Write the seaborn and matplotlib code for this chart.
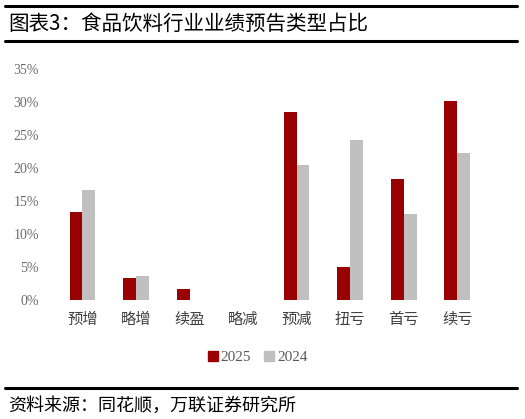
import matplotlib
matplotlib.use("Agg")
import matplotlib.pyplot as plt
import seaborn as sns
import pandas as pd
from matplotlib.lines import Line2D
from matplotlib.ticker import FuncFormatter

categories = ["预增", "略增", "续盈", "略减", "预减", "扭亏", "首亏", "续亏"]
values_2025 = [13.4, 3.3, 1.7, 0.0, 28.5, 5.0, 18.4, 30.2]
values_2024 = [16.7, 3.7, 0.0, 0.0, 20.4, 24.2, 13.0, 22.3]
series_names = ["2025", "2024"]
colors = ["#990000", "#C0C0C0"]

df = pd.DataFrame({
    "类型": categories * 2,
    "年份": [series_names[0]] * len(categories) + [series_names[1]] * len(categories),
    "占比": [v / 100 for v in values_2025] + [v / 100 for v in values_2024],
})

sns.set_theme(style="white")
plt.rcParams['font.family'] = ['Noto Sans CJK SC', 'DejaVu Sans']

fig = plt.figure(figsize=(5.25, 4.19), dpi=100)
ax = fig.add_axes([0.106, 0.284, 0.816, 0.551])

sns.barplot(data=df, x="类型", y="占比", hue="年份", hue_order=series_names,
            palette=colors, width=0.48, ax=ax, legend=False, saturation=1,
            linewidth=0)

ax.set_ylim(0, 0.35)
ax.set_yticks([i * 0.05 for i in range(8)])
ax.yaxis.set_major_formatter(FuncFormatter(lambda v, p: f"{round(v*100):d}%"))
for s in ax.spines.values():
    s.set_visible(False)
ax.set_xlabel("")
ax.set_ylabel("")
ax.tick_params(axis="y", length=0, pad=12, labelsize=10, labelcolor="#6b6b6b")
ax.tick_params(axis="x", length=0, pad=8, labelsize=11, labelcolor="#404040")
for lbl in ax.get_yticklabels():
    lbl.set_family(["Liberation Serif", "DejaVu Serif"])

# legend
handles = [Line2D([0], [0], marker="s", linestyle="", markersize=7,
                  markerfacecolor=c, markeredgecolor=c) for c in colors]
leg = fig.legend(handles, series_names, loc="center", bbox_to_anchor=(0.49, 1 - 357 / 419),
                 ncol=2, frameon=False, handletextpad=0.1, columnspacing=0.8,
                 handlelength=0.8, prop={"family": ["Liberation Serif"], "size": 11})
for t in leg.get_texts():
    t.set_color("#595959")

# title bars and text
fig.add_artist(Line2D([5 / 525, 517 / 525], [1 - 6 / 419, 1 - 6 / 419], color="black", lw=2.2))
fig.add_artist(Line2D([5 / 525, 517 / 525], [1 - 41.5 / 419, 1 - 41.5 / 419], color="black", lw=2.2))
fig.add_artist(Line2D([5 / 525, 517 / 525], [1 - 388 / 419, 1 - 388 / 419], color="black", lw=2.2))
fig.text(8 / 525, 1 - 24 / 419, "图表3：食品饮料行业业绩预告类型占比", fontsize=14.8,
         va="center", ha="left", color="black")
fig.text(8 / 525, 1 - 406 / 419, "资料来源：同花顺，万联证券研究所", fontsize=13,
         va="center", ha="left", color="black", style="italic")

fig.savefig("out.png", dpi=100)
